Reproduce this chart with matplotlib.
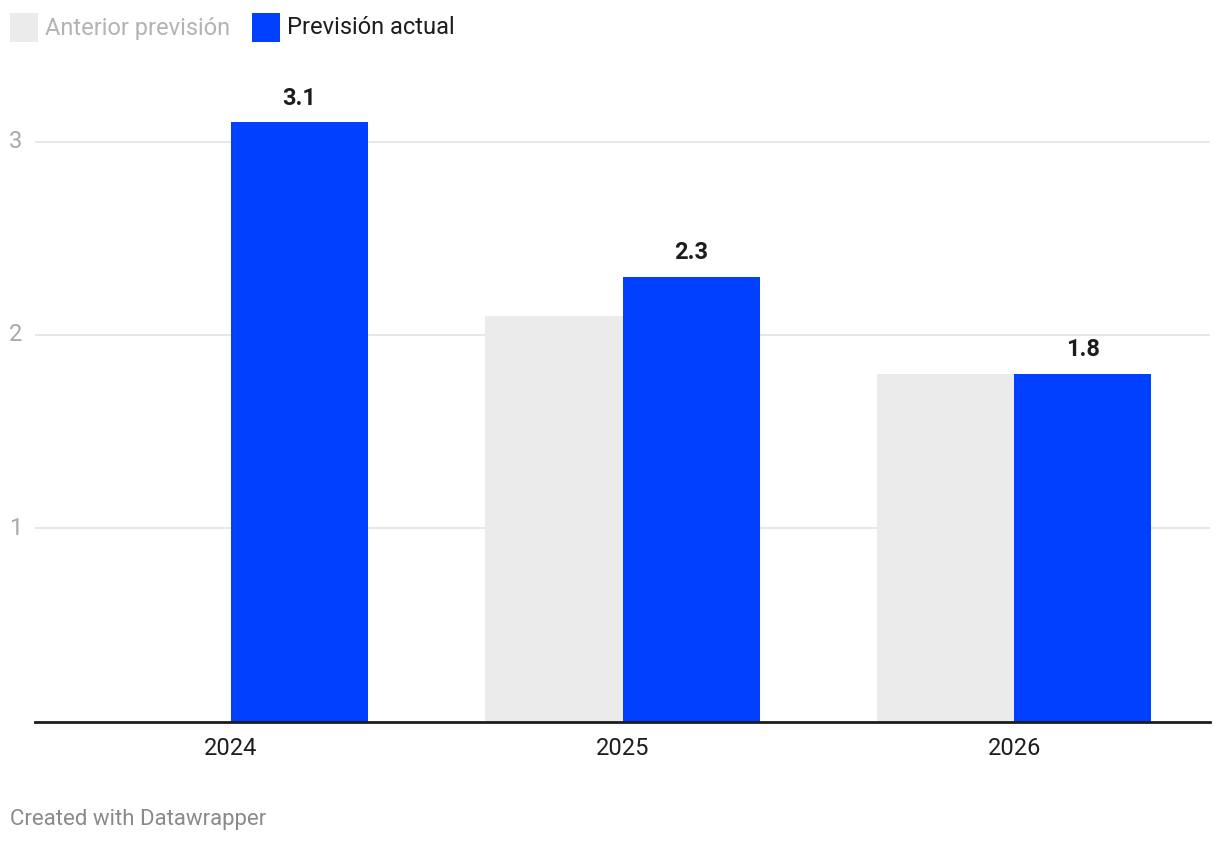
import numpy as np
import matplotlib
matplotlib.use("Agg")
import matplotlib.pyplot as plt
from matplotlib.patches import Rectangle

plt.rcParams["font.family"] = ["Roboto", "DejaVu Sans"]

# data
years = ["2024", "2025", "2026"]
anterior = [np.nan, 2.1, 1.8]      # no previous forecast for 2024
actual = [3.1, 2.3, 1.8]
series_names = ["Anterior previsión", "Previsión actual"]
yticks = [1, 2, 3]

GRAY = "#ebebeb"
BLUE = "#0040ff"
W, H = 1220, 844

fig = plt.figure(figsize=(W / 100, H / 100), dpi=100)
# axes placed in pixel terms: baseline at y=721.5, 193.3 px per unit
y0_px, px_per = 721.5, 193.3
ytop = 3.3
ax = fig.add_axes([35 / W, 1 - y0_px / H, (1210 - 35) / W, ytop * px_per / H])

x = np.arange(len(years))
bw = 0.35
ax.bar(x - bw / 2, anterior, width=bw, color=GRAY, zorder=2)
ax.bar(x + bw / 2, actual, width=bw, color=BLUE, zorder=2)

for xi, v in zip(x, actual):
    ax.annotate(f"{v:.1f}", (xi + bw / 2, v), xytext=(0, 9),
                textcoords="offset points", ha="center", va="bottom",
                fontsize=17, fontweight="bold", color="#1d1d1d")

ax.set_xlim(-0.5, len(years) - 0.5)
ax.set_ylim(0, ytop)
ax.set_yticks(yticks)
ax.set_yticklabels([str(t) for t in yticks])
ax.set_xticks(x)
ax.set_xticklabels(years)
ax.tick_params(axis="y", length=0, pad=9, labelsize=17, labelcolor="#a8a8a8")
ax.tick_params(axis="x", length=0, pad=11, labelsize=17, labelcolor="#1d1d1d")
for t in ax.get_yticklabels():
    t.set_verticalalignment("center")
ax.grid(axis="y", color="#e3e3e3", lw=1.2, zorder=0)
for s in ["top", "right", "left"]:
    ax.spines[s].set_visible(False)
ax.spines["bottom"].set_color("#1d1d1d")
ax.spines["bottom"].set_linewidth(2)
ax.spines["bottom"].set_zorder(3)

# legend drawn by hand, in pixel positions like the original
for (x0, col, tcol, name) in [(10, GRAY, "#b3b3b3", series_names[0]),
                               (252, BLUE, "#1d1d1d", series_names[1])]:
    fig.patches.append(Rectangle((x0 / W, 1 - 41.5 / H), 28 / W, 28 / H,
                                 transform=fig.transFigure, facecolor=col,
                                 edgecolor="none"))
    fig.text((x0 + 35) / W, 1 - 28 / H, name, fontsize=17, color=tcol,
             ha="left", va="center")

fig.text(10 / W, 1 - 819 / H, "Created with Datawrapper", fontsize=16,
         color="#8a8a8a", ha="left", va="center")

fig.savefig("out.png", dpi=100, facecolor="white")
